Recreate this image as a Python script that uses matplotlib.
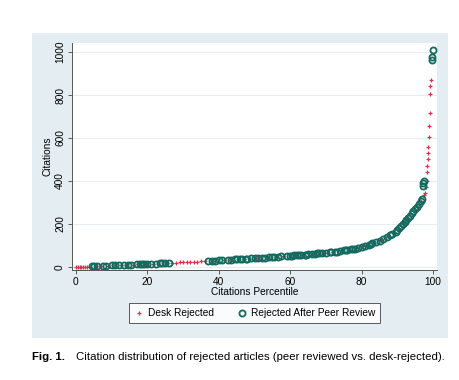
import matplotlib
matplotlib.use("Agg")
import matplotlib.pyplot as plt
from matplotlib.patches import Rectangle

plt.rcParams['font.family'] = ['Liberation Sans', 'DejaVu Sans']

# Rejected after peer review (hollow green circles)
peer_pct = [4.5, 5, 6, 7.5, 8.5, 10, 11, 12, 13.5, 14.5, 15.5, 17, 18, 18.5, 19, 20, 21, 22.5, 23.5, 24, 25, 26,
            37, 38, 39, 40, 41, 42.5, 43.5, 44.5, 45, 46, 46.5, 47.5, 48, 49, 50, 51, 52, 53, 54, 55, 55.5, 56.5,
            57.5, 59, 60, 60.5, 61, 62, 62.5, 63, 64, 64.5, 65, 66, 67, 67.5, 68, 69, 70, 71, 71.5, 72.5, 73, 74,
            75, 75.5, 76, 77, 77.5, 78, 79, 80, 81, 82, 82.5, 83, 84, 85, 86, 87, 88, 88.5, 89.5, 90, 90.5, 91,
            91.5, 92, 92.5, 93, 93.5, 94, 94.5, 95, 95.5, 96, 96.5, 97, 97.2, 97.3, 97.4, 99.7, 99.8, 99.9]
peer_cit = [3, 3, 4, 5, 6, 7, 7, 8, 9, 10, 11, 12, 13, 13, 14, 14, 15, 16, 17, 17, 18, 19,
            28, 29, 30, 31, 32, 33, 34, 35, 36, 37, 37, 38, 39, 40, 41, 42, 43, 44, 45, 46, 47, 48,
            49, 51, 52, 53, 54, 55, 56, 57, 58, 58, 59, 61, 62, 63, 64, 65, 67, 68, 69, 71, 72, 74,
            77, 78, 79, 82, 84, 86, 90, 95, 99, 104, 107, 110, 115, 122, 130, 138, 148, 153, 165, 172, 181, 190,
            199, 208, 218, 228, 239, 250, 260, 270, 281, 292, 305, 318, 378, 392, 402, 962, 975, 1008]

# Desk rejected (red plus)
desk_pct = [0, 0.5, 1, 1.5, 2, 2.5, 3, 4, 5.5, 7, 9, 10.5, 12.5, 14, 16, 17.5, 19.5, 21.5, 23, 25.5, 27, 28,
            29, 30, 31, 32, 33, 34, 35, 36, 38.5, 41.5, 43, 47, 50.5, 53.5, 56, 58, 61.5, 63.5, 66.5, 69.5,
            72, 74.5, 76.5, 78.5, 80.5, 81.5, 83.5, 85.5, 87.5, 89, 91.5, 93, 95.5, 96.5, 97.5, 97.7, 98,
            98.2, 98.3, 98.4, 98.5, 98.6, 98.7, 98.8, 98.9, 99, 99.1, 99.2, 99.3]
desk_cit = [0, 0, 0, 1, 1, 1, 2, 2, 3, 4, 6, 7, 8, 9, 11, 12, 14, 15, 16, 18, 19, 20,
            21, 22, 22, 23, 24, 25, 26, 27, 29, 32, 33, 38, 41, 45, 48, 50, 55, 57, 62, 66,
            70, 76, 81, 88, 97, 101, 112, 126, 143, 161, 200, 228, 281, 305, 335, 345, 372,
            400, 442, 470, 502, 530, 558, 605, 656, 716, 805, 842, 870]

y_ticks = [0, 200, 400, 600, 800, 1000]
x_ticks = [0, 20, 40, 60, 80, 100]

fig = plt.figure(figsize=(4.59, 3.8), dpi=100)
fig.patch.set_facecolor('white')

# stata-like graph region behind the plot
fig.patches.append(Rectangle((32/459, 1-338/380), 416/459, 305/380, transform=fig.transFigure,
                             facecolor='#e4edf1', edgecolor='none', zorder=-10))

ax = fig.add_axes([72/459, 1-270/380, 365/459, 227/380])
ax.set_facecolor('white')

ax.plot(desk_pct, desk_cit, linestyle='none', marker='+', markersize=3, mew=0.9,
        color='#d8344f', label='Desk Rejected')
ax.plot(peer_pct, peer_cit, linestyle='none', marker='o', markersize=4.4, mew=1.3,
        mfc='none', mec='#136a5e', label='Rejected After Peer Review')

ax.set_xlim(-1.1, 101.1)
ax.set_ylim(-14, 1042)
ax.set_xticks(x_ticks)
ax.set_yticks(y_ticks)
ax.set_yticklabels([str(v) for v in y_ticks], rotation=90, va='center')
ax.tick_params(labelsize=7.3, length=3, width=0.6, color='#444444', pad=2)
ax.grid(axis='y', color='#e6eef2', linewidth=0.8)
ax.set_axisbelow(True)
for s in ['top', 'right']:
    ax.spines[s].set_visible(False)
for s in ['left', 'bottom']:
    ax.spines[s].set_color('#555555')
    ax.spines[s].set_linewidth(0.7)

ax.set_xlabel('Citations Percentile', fontsize=7.3, labelpad=0)
ax.set_ylabel('Citations', fontsize=7.3, labelpad=2)

leg = ax.legend(loc='center', bbox_to_anchor=(0.5, -0.19), ncol=2, fontsize=7.3, frameon=True,
                fancybox=False, edgecolor='#333333', handletextpad=0.4, columnspacing=2.2,
                borderpad=0.5, handlelength=1.0)
leg.get_frame().set_linewidth(0.7)

fig.text(32/459, 1-357/380, 'Fig. 1.', fontsize=8.2, fontweight='bold', va='center')
fig.text(76/459, 1-357/380,
         'Citation distribution of rejected articles (peer reviewed vs. desk-rejected).',
         fontsize=8.2, va='center')

fig.savefig('out.png', dpi=100)
